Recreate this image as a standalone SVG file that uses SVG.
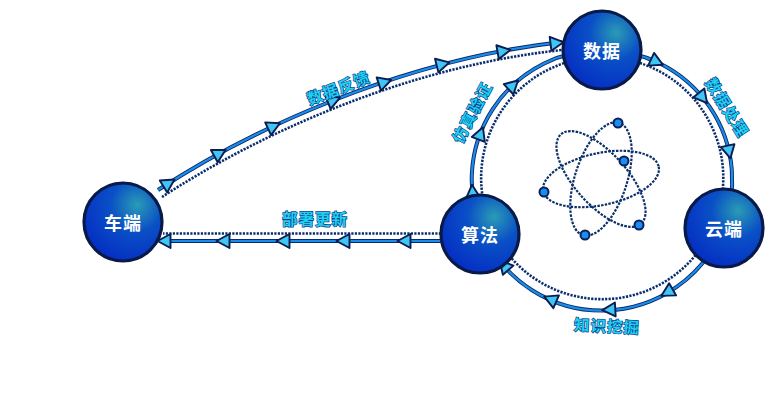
<svg xmlns="http://www.w3.org/2000/svg" width="778" height="409" viewBox="0 0 778 409">
<defs>
<radialGradient id="ng" cx="0.68" cy="0.28" r="0.75">
<stop offset="0" stop-color="#2a9cb4"/>
<stop offset="0.45" stop-color="#0a50c6"/>
<stop offset="1" stop-color="#0530c4"/>
</radialGradient>
<path id="ah" d="M6.5,0 L-6.5,-7 L-6.5,7 Z"/>
<style>
.so{fill:none;stroke:#0a2a66;stroke-width:4}
.si{fill:none;stroke:#1a8cec;stroke-width:2.2}
.dt{fill:none;stroke:#0a2d70;stroke-width:2.6;stroke-dasharray:2.2 1.3}
.ahd{fill:#40c6f2;stroke:#0a1c50;stroke-width:1.9;stroke-linejoin:round}
.nd{fill:url(#ng);stroke:#0a1a48;stroke-width:3.2}
.nt{font-family:"Noto Sans CJK SC","Noto Sans",sans-serif;font-size:18px;font-weight:bold;fill:#ffffff;text-anchor:middle;dominant-baseline:central;letter-spacing:1px}
.lb{font-family:"Noto Sans CJK SC","Noto Sans",sans-serif;font-size:15.5px;font-weight:bold;fill:#1fd0f0;stroke:#0a3a8a;stroke-width:1.3;paint-order:stroke;text-anchor:middle;dominant-baseline:central;letter-spacing:1px}
.at{fill:none;stroke:#0a2f6a;stroke-width:2.2;stroke-dasharray:2.5 1.3}
.el{fill:#1a8ef0;stroke:#0a1f55;stroke-width:2}
</style>
</defs>
<rect width="778" height="409" fill="#ffffff"/>
<g id="atom">
<ellipse class="at" cx="601" cy="179" rx="59" ry="26" transform="rotate(-12 601 179)"/>
<ellipse class="at" cx="601" cy="179" rx="60" ry="26" transform="rotate(48 601 179)"/>
<ellipse class="at" cx="601" cy="179" rx="59" ry="26" transform="rotate(108 601 179)"/>
<circle class="el" cx="618" cy="123" r="4.5"/>
<circle class="el" cx="624" cy="161" r="4.5"/>
<circle class="el" cx="544" cy="192" r="4.5"/>
<circle class="el" cx="585" cy="235" r="4.5"/>
<circle class="el" cx="639" cy="225" r="4.5"/>
</g>
<g id="connectors">
<g id="edge-feedback">
<path class="dt" d="M162,197 C254,137 402,67 562,50"/>
<path class="so" d="M158,190 C250,130 400,60 562,42"/>
<path class="si" d="M158,190 C250,130 400,60 562,42"/>
<use href="#ah" class="ahd" transform="translate(169,183) rotate(-32)"/>
<use href="#ah" class="ahd" transform="translate(220,153) rotate(-29)"/>
<use href="#ah" class="ahd" transform="translate(274,126) rotate(-25)"/>
<use href="#ah" class="ahd" transform="translate(334,100) rotate(-22)"/>
<use href="#ah" class="ahd" transform="translate(385,82) rotate(-18)"/>
<use href="#ah" class="ahd" transform="translate(443,64) rotate(-14)"/>
<use href="#ah" class="ahd" transform="translate(504,51) rotate(-10)"/>
<use href="#ah" class="ahd" transform="translate(557,43) rotate(-7)"/>
</g>
<g id="edge-deploy">
<path class="dt" d="M441,233.5 L163,233.5"/>
<path class="so" d="M441,241 L160,241"/>
<path class="si" d="M441,241 L160,241"/>
<use href="#ah" class="ahd" transform="translate(164,241) rotate(180)"/>
<use href="#ah" class="ahd" transform="translate(223,241) rotate(180)"/>
<use href="#ah" class="ahd" transform="translate(283,241) rotate(180)"/>
<use href="#ah" class="ahd" transform="translate(343,241) rotate(180)"/>
<use href="#ah" class="ahd" transform="translate(404,241) rotate(180)"/>
</g>
<g id="edge-process">
<path class="dt" d="M602,57 A121,121 0 0 1 715,222"/>
<path class="so" d="M602,50 A130,130 0 0 1 723,228"/>
<path class="si" d="M602,50 A130,130 0 0 1 723,228"/>
<use href="#ah" class="ahd" transform="translate(657,62) rotate(25)"/>
<use href="#ah" class="ahd" transform="translate(703,98) rotate(51)"/>
<use href="#ah" class="ahd" transform="translate(729,152) rotate(77.5)"/>
</g>
<g id="edge-mining">
<path class="dt" d="M715,222 A121,121 0 0 1 491.5,227"/>
<path class="so" d="M723,228 A130,130 0 0 1 483,233"/>
<path class="si" d="M723,228 A130,130 0 0 1 483,233"/>
<use href="#ah" class="ahd" transform="translate(667,292.6) rotate(150)"/>
<use href="#ah" class="ahd" transform="translate(608.8,309.8) rotate(177)"/>
<use href="#ah" class="ahd" transform="translate(550.2,299.2) rotate(203.5)"/>
<use href="#ah" class="ahd" transform="translate(503.9,265.3) rotate(229)"/>
</g>
<g id="edge-verify">
<path class="dt" d="M491.5,227 A121,121 0 0 1 602,57"/>
<path class="so" d="M483,233 A130,130 0 0 1 602,50"/>
<path class="si" d="M483,233 A130,130 0 0 1 602,50"/>
<use href="#ah" class="ahd" transform="translate(472.5,191.3) rotate(265)"/>
<use href="#ah" class="ahd" transform="translate(480.6,133.4) rotate(291)"/>
<use href="#ah" class="ahd" transform="translate(513.3,84.9) rotate(317)"/>
</g>
<g id="edge-labels">
<text class="lb" transform="translate(338,87) rotate(-21)">数据反馈</text>
<text class="lb" transform="translate(315,218)">部署更新</text>
<text class="lb" transform="translate(471,112) rotate(-62)">仿真验证</text>
<text class="lb" transform="translate(728,107) rotate(58)">数据处理</text>
<text class="lb" transform="translate(607,325) rotate(3)">知识挖掘</text>
</g>
</g>
<g id="node-shuju">
<circle class="nd" cx="602" cy="50" r="39"/>
<text class="nt" x="602" y="50">数据</text>
</g>
<g id="node-cheduan">
<circle class="nd" cx="123" cy="222" r="39"/>
<text class="nt" x="123" y="222">车端</text>
</g>
<g id="node-suanfa">
<circle class="nd" cx="480" cy="234" r="39"/>
<text class="nt" x="480" y="234">算法</text>
</g>
<g id="node-yunduan">
<circle class="nd" cx="724" cy="228" r="39"/>
<text class="nt" x="724" y="228">云端</text>
</g>
</svg>
